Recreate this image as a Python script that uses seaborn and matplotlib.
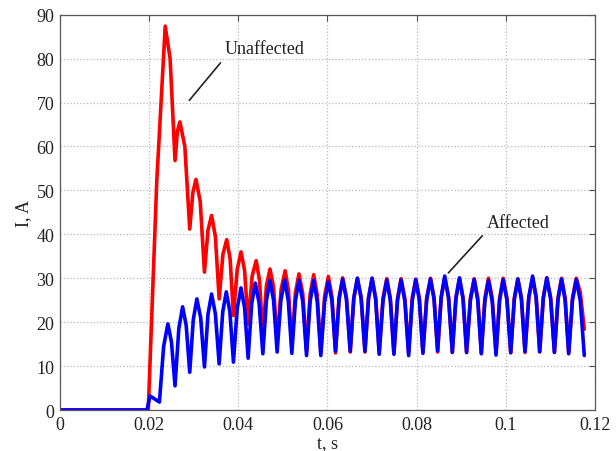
import numpy as np
import pandas as pd
import matplotlib
matplotlib.use("Agg")
import matplotlib.pyplot as plt
import seaborn as sns

# --- values ---

# cusp (valley) times, shared by both currents
valley_t = [0.0258, 0.0291, 0.0324, 0.0357, 0.0389, 0.0422, 0.0455, 0.0487, 0.0520, 0.0553,
            0.0585, 0.0618, 0.0651, 0.0684, 0.0716, 0.0749, 0.0782, 0.0814, 0.0847, 0.0880,
            0.0912, 0.0945, 0.0978, 0.1011, 0.1043, 0.1076, 0.1109, 0.1141, 0.1176]

# Affected (blue)
aff_start_t = [0.0, 0.0195, 0.0202, 0.0223]
aff_start_i = [0.0, 0.0, 3.2, 1.8]
aff_peak_t = [0.0242, 0.0275, 0.0307, 0.0340, 0.0373, 0.0406, 0.0438, 0.0471, 0.0504, 0.0536,
              0.0569, 0.0602, 0.0634, 0.0667, 0.0700, 0.0733, 0.0765, 0.0798, 0.0831, 0.0863,
              0.0896, 0.0929, 0.0961, 0.0994, 0.1027, 0.1060, 0.1092, 0.1125, 0.1158]
aff_peak_i = [19.6, 23.5, 25.3, 26.4, 26.9, 27.8, 28.9, 29.5, 29.6, 29.5,
              29.5, 29.3, 29.8, 30.0, 30.0, 29.6, 29.6, 29.7, 29.8, 30.5,
              30.1, 29.7, 29.5, 29.7, 29.8, 30.5, 30.1, 29.8, 29.7]
aff_valley_i = [5.5, 8.6, 9.8, 10.5, 10.9, 11.8, 12.8, 13.2, 12.9, 12.4,
                12.4, 13.4, 13.4, 13.4, 12.7, 12.7, 12.4, 12.9, 13.5, 13.1,
                13.1, 12.8, 12.5, 13.1, 13.3, 13.3, 13.1, 12.8, 12.4]
# level half-way up each arch (rising side / falling side)
aff_rise_i = [14.5, 18.5, 20.6, 21.8, 22.3, 23.1, 24.2, 24.9, 25.0, 24.8,
              24.7, 24.6, 25.2, 25.4, 25.4, 24.9, 24.9, 24.8, 25.1, 25.7,
              25.3, 25.0, 24.8, 24.9, 25.1, 25.7, 25.4, 25.1, 25.0]
aff_fall_i = [15.5, 19.3, 21.0, 21.9, 22.4, 23.3, 24.4, 25.0, 24.9, 24.7,
              24.7, 24.8, 25.2, 25.4, 25.2, 24.9, 24.8, 25.0, 25.2, 25.6,
              25.3, 25.0, 24.7, 25.0, 25.2, 25.7, 25.3, 25.0, 24.9]

# Unaffected (red)
unaff_start_t = [0.0, 0.0198]
unaff_start_i = [0.0, 0.0]
unaff_peak_t = [0.0236, 0.0269, 0.0305, 0.0340, 0.0374, 0.0406, 0.0440, 0.0471, 0.0505, 0.0536,
                0.0569, 0.0602, 0.0634, 0.0667, 0.0700, 0.0733, 0.0765, 0.0798, 0.0831, 0.0863,
                0.0896, 0.0929, 0.0961, 0.0994, 0.1027, 0.1060, 0.1092, 0.1125, 0.1158]
unaff_peak_i = [87.4, 65.6, 52.5, 44.3, 38.8, 36.0, 34.0, 32.1, 31.7, 31.0,
                30.8, 30.4, 30.1, 30.0, 30.0, 29.9, 29.9, 29.8, 30.0, 30.0,
                30.0, 29.9, 30.0, 30.0, 29.9, 30.0, 30.0, 30.0, 30.0]
unaff_valley_i = [56.8, 41.2, 31.4, 25.3, 21.5, 19.6, 17.0, 15.5, 14.3, 13.5,
                  13.0, 13.0, 13.2, 13.2, 13.2, 12.9, 13.0, 13.2, 13.2, 13.2,
                  13.1, 13.0, 13.0, 13.0, 13.1, 13.2, 13.2, 13.1, 18.4]
unaff_rise_i = [52.0, 63.5, 49.5, 41.0, 35.5, 32.0, 30.5, 28.3, 27.5, 26.7,
                26.3, 25.9, 25.6, 25.5, 25.5, 25.5, 25.4, 25.5, 25.6, 25.6,
                25.6, 25.5, 25.5, 25.5, 25.5, 25.6, 25.6, 25.6, 25.5]
unaff_fall_i = [80.0, 60.0, 47.5, 39.5, 34.5, 31.8, 29.5, 28.0, 27.2, 26.5,
                26.2, 25.8, 25.6, 25.6, 25.6, 25.4, 25.4, 25.5, 25.6, 25.6,
                25.6, 25.5, 25.5, 25.5, 25.5, 25.6, 25.6, 25.6, 26.8]

x_ticks = [0, 0.02, 0.04, 0.06, 0.08, 0.1, 0.12]
x_tick_labels = ["0", "0.02", "0.04", "0.06", "0.08", "0.1", "0.12"]
y_ticks = [0, 10, 20, 30, 40, 50, 60, 70, 80, 90]


def build_series(name, start_t, start_i, peak_t, peak_i, valley_i, rise_i, fall_i):
    """Walk each arch: rising shoulder, peak, falling shoulder, cusp."""
    t = list(start_t)
    i = list(start_i)
    prev_t = start_t[-1]
    for pt, pi, vt, vi, ri, fi in zip(peak_t, peak_i, valley_t, valley_i, rise_i, fall_i):
        t += [(prev_t + pt) / 2, pt, (pt + vt) / 2, vt]
        i += [ri, pi, fi, vi]
        prev_t = vt
    return pd.DataFrame({"t": t, "I": i, "case": name})


df = pd.concat([
    build_series("Unaffected", unaff_start_t, unaff_start_i, unaff_peak_t, unaff_peak_i,
                 unaff_valley_i, unaff_rise_i, unaff_fall_i),
    build_series("Affected", aff_start_t, aff_start_i, aff_peak_t, aff_peak_i,
                 aff_valley_i, aff_rise_i, aff_fall_i),
], ignore_index=True)

sns.set_theme(style="white")
plt.rcParams["font.family"] = ["Liberation Serif", "DejaVu Serif"]
plt.rcParams["font.size"] = 13

fig = plt.figure(figsize=(6.16, 4.52), dpi=100)
ax = fig.add_axes([0.0974, 0.0907, 0.8685, 0.8745])

sns.lineplot(
    data=df, x="t", y="I", hue="case",
    hue_order=["Unaffected", "Affected"],
    palette={"Unaffected": "#ff0000", "Affected": "#0000ff"},
    estimator=None, sort=False, linewidth=2.6, legend=False, ax=ax,
)

ax.set_xlim(0, 0.12)
ax.set_ylim(0, 90)
ax.set_xticks(x_ticks)
ax.set_xticklabels(x_tick_labels)
ax.set_yticks(y_ticks)
ax.tick_params(direction="in", length=4, width=0.8, color="0.3",
               top=True, right=True, labelsize=13, labelcolor="#222222", pad=4)
ax.grid(True, linestyle=":", color="#b8b8b8", linewidth=0.9)
for sp in ax.spines.values():
    sp.set_color("0.35")
    sp.set_linewidth(0.9)

ax.set_xlabel("t, s", fontsize=13, color="#222222", labelpad=1)
ax.set_ylabel("I, A", fontsize=13, color="#222222", labelpad=3)

# callouts
ax.annotate("Unaffected", xy=(0.0290, 70.5), xytext=(0.0370, 82.2),
            ha="left", va="center", fontsize=13, color="#222222",
            arrowprops=dict(arrowstyle="-", color="#222222", lw=1.2,
                            relpos=(0.0, 0.0), shrinkA=2, shrinkB=0))
ax.annotate("Affected", xy=(0.0871, 31.2), xytext=(0.0958, 42.8),
            ha="left", va="center", fontsize=13, color="#222222",
            arrowprops=dict(arrowstyle="-", color="#222222", lw=1.2,
                            relpos=(0.0, 0.0), shrinkA=2, shrinkB=0))

fig.savefig("out.png", dpi=100)
